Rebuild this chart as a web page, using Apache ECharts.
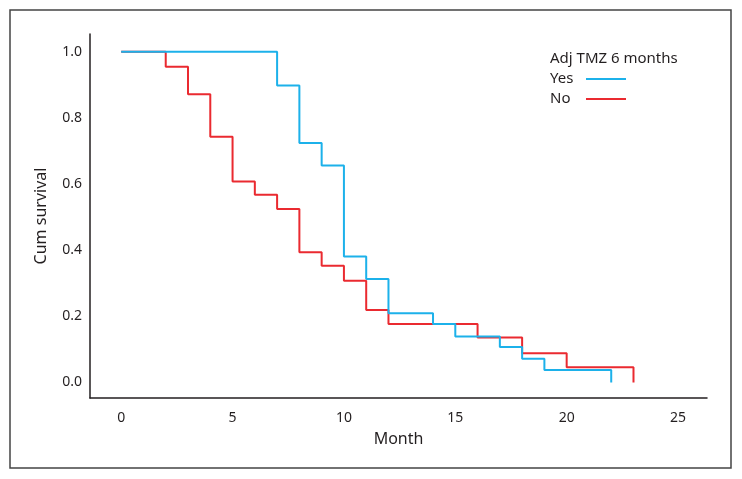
<!DOCTYPE html>
<html>
<head>
<meta charset="utf-8">
<script src="https://cdn.jsdelivr.net/npm/echarts@6/dist/echarts.min.js"></script>
<style>
html,body{margin:0;padding:0;background:#fff;}
#main{width:742px;height:479px;}
</style>
</head>
<body>
<div id="main"></div>
<script>
// Kaplan-Meier step data (month, cumulative survival)
const yesMonths = [0, 7, 8, 9, 10, 11, 12, 14, 15, 17, 18, 19, 22];
const yesSurvival = [1.0, 0.898, 0.724, 0.656, 0.381, 0.313, 0.209, 0.177, 0.139, 0.107, 0.072, 0.038, 0.0];
const noMonths = [0, 2, 3, 4, 5, 6, 7, 8, 9, 10, 11, 12, 16, 18, 20, 23];
const noSurvival = [1.0, 0.955, 0.872, 0.743, 0.608, 0.568, 0.525, 0.394, 0.353, 0.308, 0.219, 0.177, 0.136, 0.088, 0.046, 0.0];
const xTicks = [0, 5, 10, 15, 20, 25];
const yTicks = [0.0, 0.2, 0.4, 0.6, 0.8, 1.0];
const seriesNames = ['Yes', 'No'];
const legendTitle = 'Adj TMZ 6 months';

const FONT = 'Noto Sans';
const TEXT = '#231f20';
const BLUE = '#1cb1ea';
const RED = '#ea2a30';

const pairs = (xs, ys) => xs.map((x, i) => [x, ys[i]]);

const chart = echarts.init(document.getElementById('main'), null, {renderer: 'canvas'});
chart.setOption({
  animation: false,
  backgroundColor: '#fff',
  textStyle: {fontFamily: FONT, color: TEXT},
  title: {
    text: legendTitle,
    left: 550, top: 51,
    padding: 0,
    textStyle: {fontFamily: FONT, fontSize: 15, fontWeight: 'normal', color: TEXT}
  },
  legend: {
    data: seriesNames,
    orient: 'vertical',
    left: 550, top: 70,
    padding: 0,
    align: 'right',
    icon: 'rect',
    itemWidth: 40, itemHeight: 2,
    itemGap: 2,
    formatter: name => '{a|' + name + '}',
    textStyle: {
      fontFamily: FONT, fontSize: 15, color: TEXT, lineHeight: 18,
      rich: {a: {fontFamily: FONT, fontSize: 15, color: TEXT, width: 31, align: 'left', lineHeight: 18}}
    }
  },
  graphic: [{
    type: 'rect',
    shape: {x: 10, y: 10, width: 721, height: 458},
    style: {fill: 'none', stroke: '#444', lineWidth: 1.5},
    silent: true, z: -1
  }],
  grid: {left: 90, right: 35, top: 34, bottom: 81, containLabel: false},
  xAxis: {
    type: 'value',
    min: -1.4, max: 26.3,
    name: 'Month',
    nameLocation: 'middle',
    nameGap: 33,
    nameTextStyle: {fontFamily: FONT, fontSize: 16, color: TEXT},
    axisLine: {show: true, onZero: false, lineStyle: {color: TEXT, width: 1.5}},
    axisTick: {show: false},
    splitLine: {show: false},
    axisLabel: {
      customValues: xTicks,
      margin: 13,
      fontFamily: FONT, fontSize: 14, color: TEXT,
      formatter: v => String(v)
    }
  },
  yAxis: {
    type: 'value',
    min: -0.047, max: 1.054,
    name: 'Cum survival',
    nameLocation: 'middle',
    nameGap: 41,
    nameRotate: 90,
    nameTextStyle: {fontFamily: FONT, fontSize: 16, color: TEXT},
    axisLine: {show: true, onZero: false, lineStyle: {color: TEXT, width: 1.5}},
    axisTick: {show: false},
    splitLine: {show: false},
    axisLabel: {
      customValues: yTicks,
      margin: 8,
      fontFamily: FONT, fontSize: 14, color: TEXT,
      formatter: v => v.toFixed(1)
    }
  },
  series: [
    {
      name: 'No', type: 'line', step: 'end',
      data: pairs(noMonths, noSurvival),
      showSymbol: false, symbol: 'none',
      lineStyle: {color: RED, width: 2},
      itemStyle: {color: RED},
      z: 2
    },
    {
      name: 'Yes', type: 'line', step: 'end',
      data: pairs(yesMonths, yesSurvival),
      showSymbol: false, symbol: 'none',
      lineStyle: {color: BLUE, width: 2},
      itemStyle: {color: BLUE},
      z: 3
    }
  ]
});
</script>
</body>
</html>
